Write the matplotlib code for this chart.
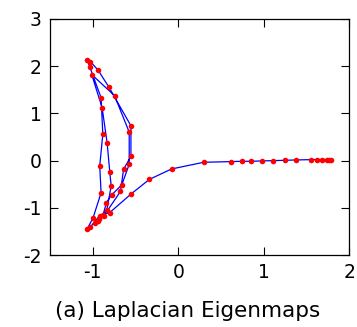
import matplotlib
matplotlib.use("Agg")
import matplotlib.pyplot as plt

# embedding coordinates (trajectory order)
x = [1.788, 1.769, 1.741, 1.678, 1.624, 1.553, 1.373, 1.255, 1.110, 0.976,
     0.847, 0.745, 0.612, 0.298, -0.078, -0.337, -0.553, -0.800, -0.918, -1.027,
     -1.067, -0.996, -0.902, -0.918, -0.882, -0.902, -1.035, -1.067, -1.027, -0.937,
     -0.812, -0.553, -0.553, -0.639, -0.675, -0.867, -0.969, -0.937, -0.835, -0.784,
     -0.800, -0.831, -0.890, -1.012, -0.745, -0.573, -0.573, -0.659, -0.780, -0.839,
     -0.878, -0.929]
y = [0.021, 0.021, 0.021, 0.021, 0.021, 0.021, 0.014, 0.007, 0.000, -0.007,
     -0.014, -0.014, -0.021, -0.035, -0.177, -0.397, -0.709, -1.099, -1.163, -1.404,
     -1.454, -1.213, -0.681, -0.113, 0.560, 1.333, 1.986, 2.135, 2.099, 1.915,
     1.560, 0.738, 0.092, -0.184, -0.652, -1.163, -1.319, -1.284, -1.043, -0.539,
     -0.248, 0.369, 1.121, 1.823, 1.376, 0.603, -0.078, -0.511, -0.730, -0.887,
     -1.142, -1.234]

xticks = [-1, 0, 1, 2]
yticks = [-2, -1, 0, 1, 2, 3]
caption = "(a) Laplacian Eigenmaps"

plt.rcParams["axes.unicode_minus"] = False
plt.rcParams["font.family"] = "DejaVu Sans"

fig = plt.figure(figsize=(3.57, 3.27), dpi=100)
ax = fig.add_axes([0.140, 0.220, 0.838, 0.722])
ax.plot(x, y, "-", color="blue", linewidth=0.9, zorder=2)
ax.plot(x, y, "o", color="red", markersize=4, markeredgewidth=0, zorder=3)

ax.set_xlim(-1.5, 2)
ax.set_ylim(-2, 3)
ax.set_xticks(xticks)
ax.set_yticks(yticks)
ax.tick_params(direction="in", length=6, width=0.8, top=True, right=True,
               labelsize=13.5, pad=6)
for s in ax.spines.values():
    s.set_linewidth(0.9)

# caption sits under the panel, a bit left of the axes centre
fig.text(0.525, 0.03, caption, fontsize=15.5, ha="center", va="baseline")

fig.savefig("out.png", dpi=100)
